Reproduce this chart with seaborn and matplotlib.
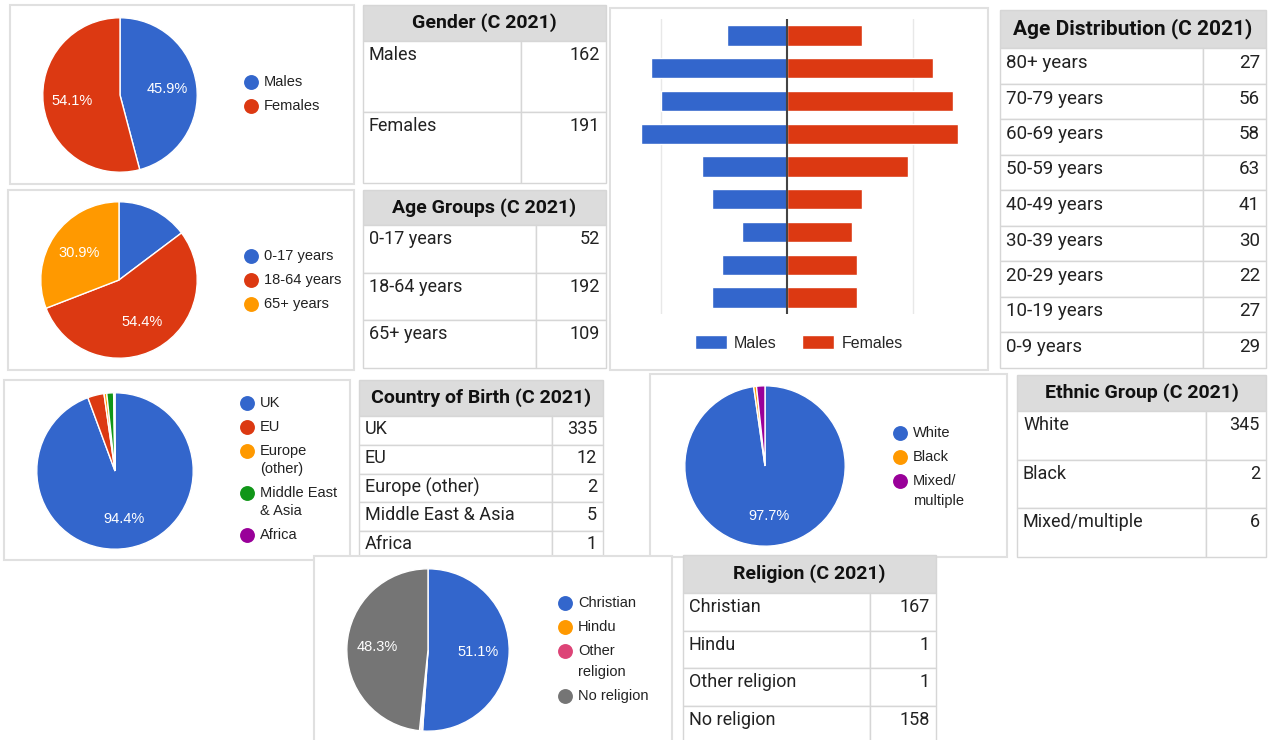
import matplotlib
matplotlib.use("Agg")
import matplotlib.pyplot as plt
from matplotlib.patches import Rectangle
import pandas as pd
import seaborn as sns

W, H = 1268, 740

BLUE = "#3366cc"
RED = "#dc3912"
ORANGE = "#ff9900"
GREEN = "#109618"
PURPLE = "#990099"
PINK = "#dd4477"
GREY = "#757575"

# data (Census 2021)
gender_labels = ["Males", "Females"]
gender_values = [162, 191]

age_group_labels = ["0-17 years", "18-64 years", "65+ years"]
age_group_values = [52, 192, 109]

age_bands = ["80+ years", "70-79 years", "60-69 years", "50-59 years", "40-49 years",
             "30-39 years", "20-29 years", "10-19 years", "0-9 years"]
age_band_totals = [27, 56, 58, 63, 41, 30, 22, 27, 29]
males_by_age = [12, 27, 25, 29, 17, 15, 9, 13, 15]
females_by_age = [15, 29, 33, 34, 24, 15, 13, 14, 14]

birth_labels = ["UK", "EU", "Europe (other)", "Middle East & Asia", "Africa"]
birth_legend = ["UK", "EU", "Europe\n(other)", "Middle East\n& Asia", "Africa"]
birth_values = [335, 12, 2, 5, 1]

ethnic_labels = ["White", "Black", "Mixed/multiple"]
ethnic_legend = ["White", "Black", "Mixed/\nmultiple"]
ethnic_values = [345, 2, 6]

religion_labels = ["Christian", "Hindu", "Other religion", "No religion"]
religion_legend = ["Christian", "Hindu", "Other\nreligion", "No religion"]
religion_values = [167, 1, 1, 158]

sns.set_theme(style="white")
plt.rcParams["font.family"] = ["Liberation Sans", "DejaVu Sans"]
NARROW = ["Roboto", "DejaVu Sans"]

fig = plt.figure(figsize=(W / 100, H / 100), dpi=100)
bg = fig.add_axes([0, 0, 1, 1])
bg.set_xlim(0, W)
bg.set_ylim(H, 0)
bg.axis("off")


def px_axes(x, y, w, h):
    return fig.add_axes([x / W, 1 - (y + h) / H, w / W, h / H])


def panel(x0, y0, x1, y1):
    bg.add_patch(Rectangle((x0, y0), x1 - x0, y1 - y0, facecolor="white",
                           edgecolor="#e0e0e0", lw=1.5, zorder=1))


def draw_pie(cx, cy, r, values, colors):
    ax = px_axes(cx - r, cy - r, 2 * r, 2 * r)
    ax.pie(values, colors=colors, startangle=90, counterclock=False,
           autopct=lambda p: f"{p:.1f}%" if p > 20 else "", pctdistance=0.62,
           wedgeprops=dict(edgecolor="white", linewidth=1),
           textprops=dict(color="white", fontsize=10.5))
    ax.set_xlim(-1.01, 1.01)
    ax.set_ylim(-1.01, 1.01)
    return ax


def pie_legend(x, y, labels, colors, step=23.8, inner=19.5):
    for lab, col in zip(labels, colors):
        bg.scatter([x], [y], s=115, color=col, zorder=3, linewidths=0)
        lines = lab.split("\n")
        for j, line in enumerate(lines):
            bg.text(x + 13, y + j * inner, line, va="center", ha="left",
                    fontsize=10.5, color="#222222", zorder=3)
        y += step + inner * (len(lines) - 1)


def draw_table(x0, x1, xs, y0, head_h, row_h, title, labels, values,
               title_size=14, text_size=13, pad=5):
    border = "#d6d6d6"
    bg.add_patch(Rectangle((x0, y0), x1 - x0, head_h, facecolor="#dcdcdc",
                           edgecolor=border, lw=1, zorder=2))
    bg.text((x0 + x1) / 2, y0 + head_h / 2, title, ha="center", va="center",
            fontsize=title_size, fontweight="bold", color="#111111",
            family=NARROW, zorder=3)
    for i, (lab, val) in enumerate(zip(labels, values)):
        top = y0 + head_h + i * row_h
        bg.add_patch(Rectangle((x0, top), xs - x0, row_h, facecolor="white",
                               edgecolor=border, lw=1, zorder=2))
        bg.add_patch(Rectangle((xs, top), x1 - xs, row_h, facecolor="white",
                               edgecolor=border, lw=1, zorder=2))
        bg.text(x0 + 6, top + pad, lab, ha="left", va="top", fontsize=text_size,
                color="#222222", family=NARROW, zorder=3)
        bg.text(x1 - 6, top + pad, str(val), ha="right", va="top", fontsize=text_size,
                color="#222222", family=NARROW, zorder=3)


# panels behind the pies and the pyramid
panel(10, 5, 354, 184)
panel(8, 190, 354, 370)
panel(610, 8, 988, 370)
panel(4, 380, 350, 560)
panel(650, 374, 1007, 557)

# gender
draw_pie(120, 95, 78, gender_values, [BLUE, RED])
pie_legend(251, 82, gender_labels, [BLUE, RED])
draw_table(363, 606, 521, 5, 36, 71, "Gender (C 2021)", gender_labels, gender_values)

# age groups
draw_pie(119, 280, 79, age_group_values, [BLUE, RED, ORANGE])
pie_legend(251, 256, age_group_labels, [BLUE, RED, ORANGE])
draw_table(363, 606, 536, 190, 35, 47.7, "Age Groups (C 2021)",
           age_group_labels, age_group_values)

# population pyramid
pyr = pd.DataFrame({
    "band": age_bands * 2,
    "count": [-m for m in males_by_age] + females_by_age,
    "sex": ["Males"] * len(age_bands) + ["Females"] * len(age_bands),
})
ax = px_axes(611, 19, 352, 295)
sns.barplot(data=pyr, y="band", x="count", hue="sex", order=age_bands,
            palette={"Males": BLUE, "Females": RED}, dodge=False, width=0.62,
            orient="h", saturation=1, ax=ax, zorder=3)
ax.set_xlim(-35, 35)
ax.set_ylim(8.5, -0.5)
ax.set_xticks([-25, 25])
ax.set_yticks([])
ax.set_xticklabels([])
ax.grid(axis="x", color="#e8e8e8", lw=1)
ax.axvline(0, color="#444444", lw=1.5, zorder=4)
ax.set_xlabel("")
ax.set_ylabel("")
sns.despine(ax=ax, left=True, bottom=True)
handles, labels = ax.get_legend_handles_labels()
ax.legend(handles, labels, loc="center", bbox_to_anchor=(0.533, -0.098), ncol=2,
          frameon=False, fontsize=11.5, handlelength=2.0, handleheight=1.0,
          handletextpad=0.45, columnspacing=1.6)
draw_table(1000, 1266, 1203, 10, 38, 35.5, "Age Distribution (C 2021)",
           age_bands, age_band_totals, title_size=15, text_size=13.5, pad=6)

# country of birth
birth_colors = [BLUE, RED, ORANGE, GREEN, PURPLE]
draw_pie(115, 471, 79, birth_values, birth_colors)
pie_legend(247, 403, birth_legend, birth_colors, inner=18.5)
draw_table(359, 603, 552, 380, 36, 28.8, "Country of Birth (C 2021)",
           birth_labels, birth_values, pad=4)

# ethnic group
ethnic_colors = [BLUE, ORANGE, PURPLE]
draw_pie(765, 466, 81, ethnic_values, ethnic_colors)
pie_legend(900, 433, ethnic_legend, ethnic_colors, inner=20)
draw_table(1017, 1266, 1206, 375, 36, 48.7, "Ethnic Group (C 2021)",
           ethnic_labels, ethnic_values)

# religion (its panel sits over the bottom of the country table)
bg.add_patch(Rectangle((314, 556), 358, 190, facecolor="white",
                       edgecolor="#e0e0e0", lw=1.5, zorder=2.5))
religion_colors = [BLUE, ORANGE, PINK, GREY]
ax = draw_pie(428, 650, 82, religion_values, religion_colors)
ax.set_zorder(5)
pie_legend(565, 603, religion_legend, religion_colors, step=24, inner=21)
draw_table(683, 936, 870, 555, 38, 37.7, "Religion (C 2021)",
           religion_labels, religion_values)

fig.savefig("out.png", dpi=100)
